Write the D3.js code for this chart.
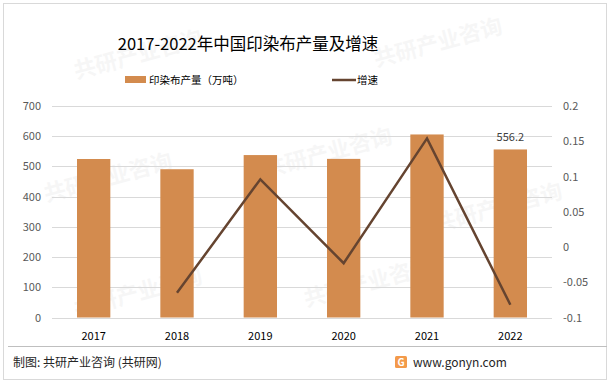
<!DOCTYPE html>
<html>
<head>
<meta charset="utf-8">
<script src="https://cdn.jsdelivr.net/npm/d3@7"></script>
<style>
  body { margin: 0; background: #fff; }
  text { font-family: "Noto Sans CJK SC", "Noto Sans", sans-serif; }
</style>
</head>
<body>
<div id="chart"></div>
<script>
const years = ['2017', '2018', '2019', '2020', '2021', '2022'];
const output = [524.6, 490.7, 537.6, 525.0, 605.8, 556.2];
const growth = [null, -0.065, 0.096, -0.023, 0.154, -0.082];
const leftTicks = [0, 100, 200, 300, 400, 500, 600, 700];
const rightTicks = [-0.1, -0.05, 0, 0.05, 0.1, 0.15, 0.2];

const width = 615, height = 385;
const margin = { left: 52, right: 63, top: 106, bottom: 67 };

const svg = d3.select('#chart').append('svg')
  .attr('width', width)
  .attr('height', height);

// outer frame
svg.append('rect')
  .attr('x', 3.5).attr('y', 3.5)
  .attr('width', 603).attr('height', 376)
  .attr('fill', '#fff')
  .attr('stroke', '#d9d9d9');

// faint watermarks, kept inside the frame
const marks = [[140, 62], [440, 50], [110, 185], [330, 160], [500, 215], [140, 300], [370, 290]];
svg.append('g').selectAll('text')
  .data(marks)
  .join('text')
  .attr('transform', d => `translate(${d[0]},${d[1]}) rotate(-15)`)
  .attr('font-size', 22)
  .attr('font-weight', 'bold')
  .attr('fill', '#000')
  .attr('opacity', 0.03)
  .attr('text-anchor', 'middle')
  .text('共研产业咨询');

const x = d3.scaleBand()
  .domain(years)
  .range([margin.left, width - margin.right])
  .paddingInner(0.6)
  .paddingOuter(0.3);

const yLeft = d3.scaleLinear()
  .domain([0, 700])
  .range([height - margin.bottom - 0.5, margin.top]);

const yRight = d3.scaleLinear()
  .domain([-0.1, 0.2])
  .range([height - margin.bottom - 0.5, margin.top]);

// gridlines
svg.append('g').selectAll('line')
  .data(leftTicks)
  .join('line')
  .attr('x1', margin.left)
  .attr('x2', width - margin.right)
  .attr('y1', d => Math.round(yLeft(d)) + 0.5)
  .attr('y2', d => Math.round(yLeft(d)) + 0.5)
  .attr('stroke', '#d9d9d9');

// left axis labels
const leftAxis = d3.axisLeft(yLeft).tickValues(leftTicks).tickSize(0).tickPadding(11);
svg.append('g')
  .attr('transform', `translate(${margin.left},0)`)
  .call(leftAxis)
  .call(g => g.select('.domain').remove())
  .selectAll('text')
  .attr('font-size', 11)
  .attr('fill', '#595959');

// right axis labels
const rightAxis = d3.axisRight(yRight).tickValues(rightTicks).tickSize(0).tickPadding(11)
  .tickFormat(d => String(+d.toFixed(2)));
svg.append('g')
  .attr('transform', `translate(${width - margin.right},0)`)
  .call(rightAxis)
  .call(g => g.select('.domain').remove())
  .selectAll('text')
  .attr('font-size', 11)
  .attr('fill', '#595959');

// bars
svg.append('g').selectAll('rect')
  .data(output)
  .join('rect')
  .attr('x', (d, i) => x(years[i]))
  .attr('width', x.bandwidth())
  .attr('y', d => yLeft(d))
  .attr('height', d => yLeft(0) - yLeft(d))
  .attr('fill', '#D38B4E');

// x labels
svg.append('g').selectAll('text')
  .data(years)
  .join('text')
  .attr('x', d => x(d) + x.bandwidth() / 2)
  .attr('y', 340)
  .attr('text-anchor', 'middle')
  .attr('font-size', 11)
  .attr('fill', '#000')
  .text(d => d);

// growth line
const line = d3.line()
  .defined(d => d != null)
  .x((d, i) => x(years[i]) + x.bandwidth() / 2)
  .y(d => yRight(d));

svg.append('path')
  .datum(growth)
  .attr('d', line)
  .attr('fill', 'none')
  .attr('stroke', '#654430')
  .attr('stroke-width', 2.5)
  .attr('stroke-linejoin', 'miter');

// data label on last bar
svg.append('text')
  .attr('x', x('2022') + x.bandwidth() / 2)
  .attr('y', yLeft(output[5]) - 8)
  .attr('text-anchor', 'middle')
  .attr('font-size', 11)
  .attr('fill', '#404040')
  .text('556.2');

// title
svg.append('text')
  .attr('x', 248)
  .attr('y', 50)
  .attr('text-anchor', 'middle')
  .attr('font-size', 16.5)
  .attr('fill', '#000')
  .text('2017-2022年中国印染布产量及增速');

// legend
svg.append('rect')
  .attr('x', 125).attr('y', 76)
  .attr('width', 21).attr('height', 7)
  .attr('fill', '#D38B4E');
svg.append('text')
  .attr('x', 149).attr('y', 84)
  .attr('font-size', 10.5)
  .attr('fill', '#000')
  .text('印染布产量（万吨）');
svg.append('line')
  .attr('x1', 332).attr('x2', 356)
  .attr('y1', 80).attr('y2', 80)
  .attr('stroke', '#654430')
  .attr('stroke-width', 2.5);
svg.append('text')
  .attr('x', 357).attr('y', 84)
  .attr('font-size', 10.5)
  .attr('fill', '#000')
  .text('增速');

// footer
svg.append('line')
  .attr('x1', 8).attr('x2', 607)
  .attr('y1', 346.5).attr('y2', 346.5)
  .attr('stroke', '#bfbfbf');
svg.append('text')
  .attr('x', 13).attr('y', 367)
  .attr('font-size', 12)
  .attr('fill', '#262626')
  .text('制图: 共研产业咨询 (共研网)');

// logo
svg.append('rect')
  .attr('x', 395).attr('y', 356)
  .attr('width', 12).attr('height', 12)
  .attr('rx', 1.5)
  .attr('fill', '#f39a4a');
svg.append('text')
  .attr('x', 401).attr('y', 366)
  .attr('text-anchor', 'middle')
  .attr('font-size', 10)
  .attr('font-weight', 'bold')
  .attr('fill', '#fff')
  .text('G');
svg.append('text')
  .attr('x', 413).attr('y', 367)
  .attr('font-size', 12)
  .attr('fill', '#262626')
  .attr('font-family', 'Liberation Sans, sans-serif')
  .text('www.gonyn.com');
</script>
</body>
</html>
